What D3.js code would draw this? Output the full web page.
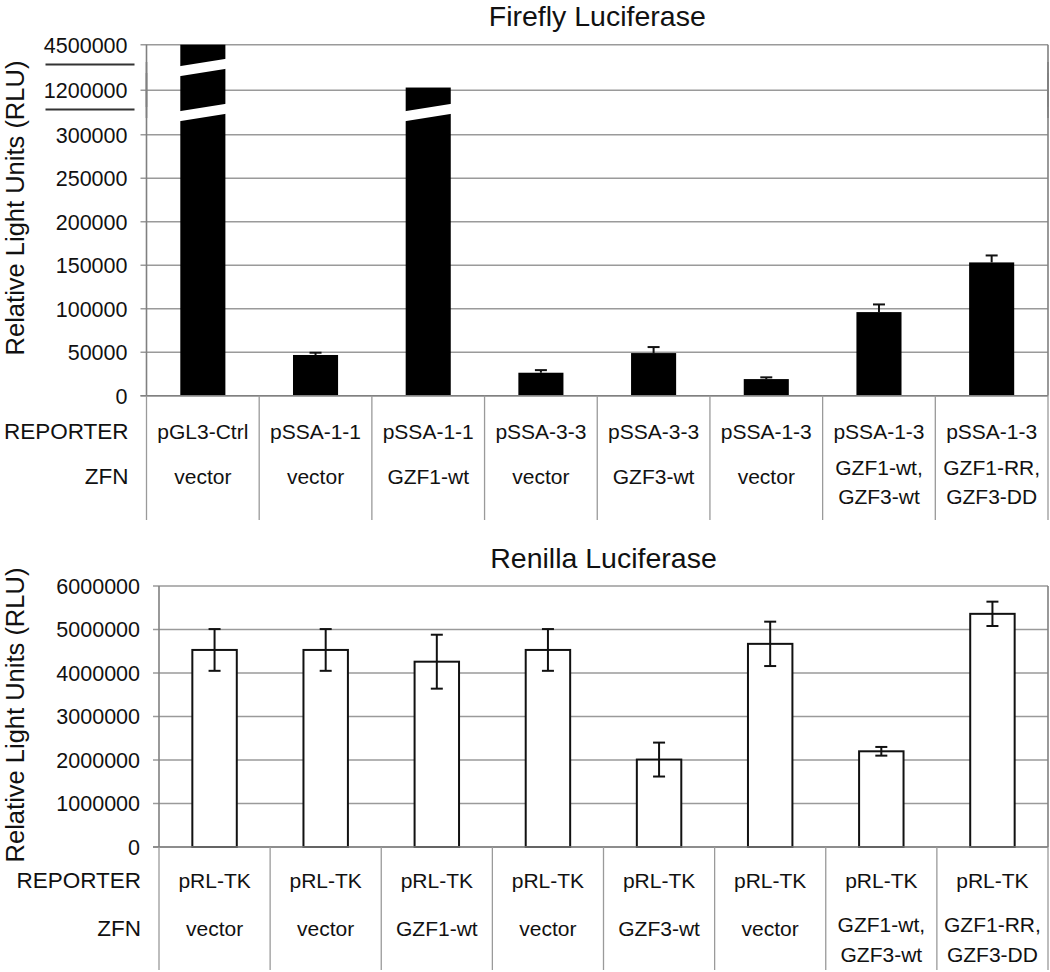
<!DOCTYPE html>
<html><head><meta charset="utf-8">
<script src="https://cdn.jsdelivr.net/npm/d3@7"></script>
<style>body{margin:0;background:#fff}svg{display:block;font-family:"Liberation Sans",Arial,Helvetica,sans-serif}</style>
</head><body><svg id="c" width="1050" height="972"></svg>
<script>
// ---------- data ----------
const fireflyReporters = ["pGL3-Ctrl","pSSA-1-1","pSSA-1-1","pSSA-3-3","pSSA-3-3","pSSA-1-3","pSSA-1-3","pSSA-1-3"];
const zfnLabels = [["vector"],["vector"],["GZF1-wt"],["vector"],["GZF3-wt"],["vector"],["GZF1-wt,","GZF3-wt"],["GZF1-RR,","GZF3-DD"]];
const fireflyValues = [4500000, 46800, 1400000, 26400, 49000, 19100, 96100, 153200];
const fireflyErrors = [0, 2600, 0, 3000, 6900, 2000, 8800, 8000];
const fireflyTicks = [0, 50000, 100000, 150000, 200000, 250000, 300000, 1200000, 4500000];
const fireflyBreaks = [[300000, 1200000], [1200000, 4500000]];

const renillaReporters = ["pRL-TK","pRL-TK","pRL-TK","pRL-TK","pRL-TK","pRL-TK","pRL-TK","pRL-TK"];
const renillaValues = [4530000, 4530000, 4260000, 4530000, 2010000, 4670000, 2200000, 5360000];
const renillaErrors = [480000, 480000, 620000, 480000, 390000, 510000, 100000, 280000];
const renillaTicks = [0, 1000000, 2000000, 3000000, 4000000, 5000000, 6000000];

const rowLabels = ["REPORTER", "ZFN"];
const yAxisTitle = "Relative Light Units (RLU)";

// ---------- drawing ----------
const svg = d3.select("#c");
const fmt = d3.format("d");
const GRID = "#9a9a9a", AXIS = "#808080";

function panel(cfg) {
  const g = svg.append("g");
  const idx = d3.range(cfg.values.length);
  const x = d3.scaleBand().domain(idx).range([cfg.left, cfg.right]).paddingInner(0).paddingOuter(0);
  const y = cfg.y;
  const y0 = y(0), yTop = y(cfg.ticks[cfg.ticks.length - 1]);
  const bw = x.bandwidth() * 0.4;

  // title
  g.append("text").attr("x", (cfg.left + cfg.right) / 2).attr("y", cfg.titleY)
    .attr("text-anchor", "middle").attr("font-size", 28.5).attr("fill", "#111").text(cfg.title);
  // y title
  g.append("text").attr("transform", `translate(${cfg.yLabelX},${cfg.yLabelY}) rotate(-90)`)
    .attr("text-anchor", "middle").attr("font-size", 25.5).attr("fill", "#111").text(yAxisTitle);

  // break positions (pixel)
  const breakMids = (cfg.breaks || []).map(b => (y(b[0]) + y(b[1])) / 2);

  // gridlines + tick labels
  g.selectAll(".grid").data(cfg.ticks).enter().append("line")
    .attr("x1", cfg.left - 6).attr("x2", cfg.right)
    .attr("y1", d => y(d)).attr("y2", d => y(d))
    .attr("stroke", GRID).attr("stroke-width", 1.6);
  g.selectAll(".tl").data(cfg.ticks).enter().append("text")
    .attr("x", cfg.left - 19).attr("y", d => y(d) + 7.8)
    .attr("text-anchor", "end").attr("font-size", 21.5).attr("fill", "#111")
    .text(d => fmt(d));

  // vertical axis & right border with gaps at breaks
  function vSegments(xp) {
    let cuts = [yTop];
    breakMids.forEach(m => { cuts.push(m - 5.5); cuts.push(m + 5.5); });
    cuts.push(y0);
    for (let i = 0; i < cuts.length; i += 2) {
      g.append("line").attr("x1", xp).attr("x2", xp).attr("y1", cuts[i]).attr("y2", cuts[i + 1])
        .attr("stroke", AXIS).attr("stroke-width", 1.6);
    }
  }
  vSegments(cfg.left);
  vSegments(cfg.right);
  // break marks on the axis label area
  breakMids.forEach(m => {
    g.append("line").attr("x1", cfg.left - 101).attr("x2", cfg.left - 12)
      .attr("y1", m - 3).attr("y2", m - 3).attr("stroke", "#333").attr("stroke-width", 2);
  });

  // bars
  g.selectAll(".bar").data(idx).enter().append("rect")
    .attr("x", i => x(i) + (x.bandwidth() - bw) / 2)
    .attr("y", i => y(cfg.values[i]))
    .attr("width", bw)
    .attr("height", i => y0 - y(cfg.values[i]))
    .attr("fill", cfg.fill)
    .attr("stroke", cfg.fill === "#000" ? "none" : "#111")
    .attr("stroke-width", 2);

  // white slashes on broken bars
  idx.forEach(i => {
    const x0 = x(i) + (x.bandwidth() - bw) / 2, x1 = x0 + bw;
    breakMids.forEach(m => {
      if (y(cfg.values[i]) < m) {
        const pts = [[x0 - 1, m + 3.8 - 5], [x1 + 1, m - 3.8 - 5], [x1 + 1, m - 3.8 + 5], [x0 - 1, m + 3.8 + 5]];
        g.append("polygon").attr("points", pts.map(p => p.join(",")).join(" ")).attr("fill", "#fff");
      }
    });
  });

  // error bars
  idx.forEach(i => {
    const e = cfg.errors[i];
    if (!e) return;
    const cx = x(i) + x.bandwidth() / 2;
    const hi = y(cfg.values[i] + e);
    const lo = cfg.upperOnly ? y(cfg.values[i]) : y(cfg.values[i] - e);
    g.append("line").attr("x1", cx).attr("x2", cx).attr("y1", hi).attr("y2", lo)
      .attr("stroke", "#111").attr("stroke-width", 2);
    g.append("line").attr("x1", cx - 6).attr("x2", cx + 6).attr("y1", hi).attr("y2", hi)
      .attr("stroke", "#111").attr("stroke-width", 2);
    if (!cfg.upperOnly) {
      g.append("line").attr("x1", cx - 6).attr("x2", cx + 6).attr("y1", lo).attr("y2", lo)
        .attr("stroke", "#111").attr("stroke-width", 2);
    }
  });

  // baseline
  g.append("line").attr("x1", cfg.left - 6).attr("x2", cfg.right).attr("y1", y0).attr("y2", y0)
    .attr("stroke", AXIS).attr("stroke-width", 1.6);

  // table separators
  const seps = idx.map(i => x(i)).concat([cfg.right]);
  g.selectAll(".sep").data(seps).enter().append("line")
    .attr("x1", d => d).attr("x2", d => d).attr("y1", y0).attr("y2", cfg.tableBottom)
    .attr("stroke", GRID).attr("stroke-width", 1.3);

  // row labels
  g.append("text").attr("x", cfg.left - 18).attr("y", cfg.repY).attr("text-anchor", "end")
    .attr("font-size", 22.5).attr("fill", "#111").text(rowLabels[0]);
  g.append("text").attr("x", cfg.left - 18).attr("y", cfg.zfnY).attr("text-anchor", "end")
    .attr("font-size", 22.5).attr("fill", "#111").text(rowLabels[1]);

  idx.forEach(i => {
    const cx = x(i) + x.bandwidth() / 2;
    g.append("text").attr("x", cx).attr("y", cfg.repY).attr("text-anchor", "middle")
      .attr("font-size", 21).attr("fill", "#111").text(cfg.reporters[i]);
    const lines = zfnLabels[i];
    const ys = lines.length === 1 ? [cfg.zfnY] : cfg.zfn2Y;
    lines.forEach((t, k) => {
      g.append("text").attr("x", cx).attr("y", ys[k]).attr("text-anchor", "middle")
        .attr("font-size", 21).attr("fill", "#111").text(t);
    });
  });
}

panel({
  title: "Firefly Luciferase", titleY: 26, yLabelX: 24, yLabelY: 208,
  left: 146.5, right: 1048,
  y: d3.scaleLinear().domain([0, 300000, 1200000, 4500000]).range([395.7, 134.7, 90.3, 44.7]),
  ticks: fireflyTicks, breaks: fireflyBreaks,
  values: fireflyValues, errors: fireflyErrors, fill: "#000", upperOnly: true,
  reporters: fireflyReporters,
  repY: 439, zfnY: 484, zfn2Y: [475, 504], tableBottom: 520
});

panel({
  title: "Renilla Luciferase", titleY: 568, yLabelX: 24, yLabelY: 715,
  left: 159, right: 1048,
  y: d3.scaleLinear().domain([0, 6000000]).range([847, 586]),
  ticks: renillaTicks, breaks: [],
  values: renillaValues, errors: renillaErrors, fill: "#fff", upperOnly: false,
  reporters: renillaReporters,
  repY: 888, zfnY: 936, zfn2Y: [932, 962], tableBottom: 970
});
</script>
</body></html>
